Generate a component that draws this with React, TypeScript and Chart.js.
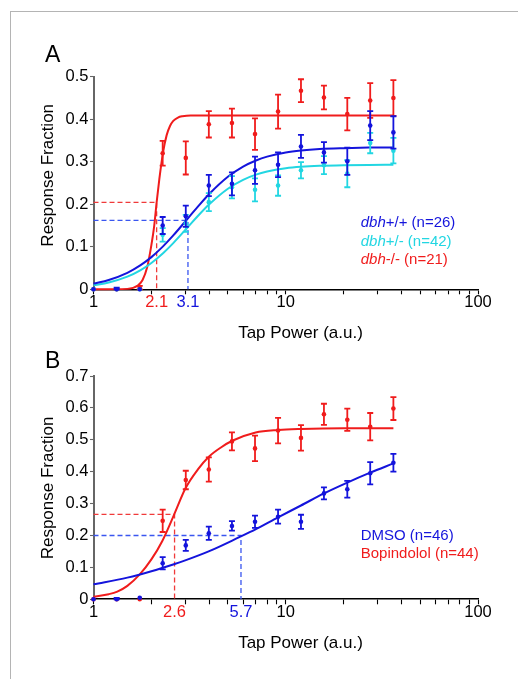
import React, { useEffect, useRef } from 'react';
import { Chart, registerables } from 'chart.js';

Chart.register(...registerables);

const FONT = '"Liberation Sans", Arial, Helvetica, sans-serif';

// ---------- shared data ----------
const tapPower = [1, 1.32, 1.74, 2.29, 3.02, 3.98, 5.25, 6.92, 9.12, 12.0, 15.8, 20.9, 27.5, 36.3];
const xTickValues = [1, 2, 3, 4, 5, 6, 7, 8, 9, 10, 20, 30, 40, 50, 60, 70, 80, 90, 100];
const xLabeledTicks = [1, 10, 100];
const xAxisTitle = 'Tap Power (a.u.)';
const yAxisTitle = 'Response Fraction';

// ---------- panel A ----------
const yTicksA = [0, 0.1, 0.2, 0.3, 0.4, 0.5];
const genotypePrefix = 'dbh';
const genotypesA = ['+/+', '+/-', '-/-'];
const countsA = [26, 42, 21];

const wtA = [0, 0, 0, 0.15, 0.172, 0.244, 0.248, 0.28, 0.293, 0.336, 0.322, 0.301, 0.385, 0.369];
const wtErrA = [0, 0.004, 0, 0.02, 0.025, 0.025, 0.027, 0.032, 0.029, 0.027, 0.024, 0.032, 0.034, 0.038];
const hetA = [0, 0, 0, 0.128, 0.155, 0.205, 0.24, 0.234, 0.244, 0.28, 0.292, 0.272, 0.344, 0.326];
const hetErrA = [0, 0, 0, 0.016, 0.02, 0.021, 0.026, 0.027, 0.024, 0.019, 0.021, 0.032, 0.024, 0.03];
const koA = [0, 0, 0.004, 0.32, 0.309, 0.388, 0.391, 0.365, 0.418, 0.467, 0.451, 0.412, 0.444, 0.45];
const koErrA = [0, 0, 0.004, 0.029, 0.039, 0.031, 0.034, 0.037, 0.04, 0.027, 0.028, 0.038, 0.041, 0.042];

// fitted curves
const fitXA = [1, 1.2, 1.5, 1.75, 2, 2.3, 2.6, 3.1, 3.5, 4, 5, 6, 7, 8, 10, 12, 15, 20, 27, 36.3];
const fitWtA = [0.0135, 0.0219, 0.0387, 0.0561, 0.0757, 0.101, 0.1267, 0.167, 0.1951, 0.2242, 0.2646, 0.2886, 0.303, 0.3121, 0.3219, 0.3266, 0.33, 0.332, 0.3332, 0.3337];
const fitHetA = [0.0095, 0.0161, 0.0298, 0.0447, 0.062, 0.085, 0.1087, 0.1465, 0.1729, 0.1999, 0.2366, 0.2575, 0.2696, 0.2769, 0.2845, 0.288, 0.2904, 0.2919, 0.2926, 0.2928];
const fitXKoA = [1, 1.5, 1.7, 1.8, 1.9, 2.0, 2.07, 2.13, 2.2, 2.3, 2.4, 2.5, 2.6, 2.75, 2.9, 3.2, 4, 36.3];
const fitKoA = [0, 0.001, 0.009, 0.022, 0.051, 0.104, 0.15, 0.2045, 0.259, 0.322, 0.362, 0.384, 0.396, 0.404, 0.407, 0.409, 0.409, 0.409];

// half-maximum guides
const ec50A = [2.13, 3.1];
const ec50LabelsA = ['2.1', '3.1'];
const halfMaxA = [0.2045, 0.162];

// ---------- panel B ----------
const yTicksB = [0, 0.1, 0.2, 0.3, 0.4, 0.5, 0.6, 0.7];
const treatmentsB = ['DMSO', 'Bopindolol'];
const countsB = [46, 44];

const dmsoB = [0, 0, 0.005, 0.113, 0.169, 0.207, 0.23, 0.243, 0.259, 0.243, 0.332, 0.345, 0.395, 0.428];
const dmsoErrB = [0, 0.004, 0, 0.019, 0.017, 0.021, 0.015, 0.019, 0.022, 0.022, 0.019, 0.026, 0.035, 0.028];
const bopB = [0, 0, 0, 0.246, 0.374, 0.407, 0.495, 0.473, 0.529, 0.506, 0.58, 0.563, 0.541, 0.598];
const bopErrB = [0, 0, 0, 0.035, 0.029, 0.038, 0.028, 0.04, 0.04, 0.04, 0.033, 0.035, 0.043, 0.036];

const fitXDmsoB = [1, 1.5, 2, 2.62, 3, 4, 5.7, 7, 9.12, 12, 15.8, 20.9, 27.5, 36.3];
const fitDmsoB = [0.047, 0.068, 0.088, 0.11, 0.122, 0.151, 0.194, 0.22, 0.257, 0.294, 0.332, 0.366, 0.397, 0.426];
const fitXBopB = [1, 1.2, 1.33, 1.5, 1.74, 2.0, 2.28, 2.62, 3.01, 3.5, 3.98, 4.6, 5.27, 6.97, 9.12, 12, 20, 36.3];
const fitBopB = [0.008, 0.016, 0.024, 0.042, 0.078, 0.125, 0.183, 0.264, 0.348, 0.408, 0.447, 0.476, 0.497, 0.523, 0.531, 0.534, 0.536, 0.536];

const ec50B = [2.64, 5.85];
const ec50LabelsB = ['2.6', '5.7'];
const halfMaxB = [0.266, 0.2];

// ---------- styling ----------
const RED = '#f01c1c';
const BLUE = '#1414dc';
const CYAN = '#22d6e2';
const RED_DASH = '#f03a3a';
const BLUE_DASH = '#3a56f0';

const W = 518;
const AREA_LEFT = 93.5;
const AREA_RIGHT = 478;
const TICK_SIZE = 16.5;
const X_TICK_LEN = 5;
const X_TICK_PAD = 0;

const pts = (xs: number[], ys: number[]) => xs.map((x, i) => ({ x, y: ys[i] }));

function pointSet(label: string, ys: number[], errs: number[], color: string) {
  return {
    label,
    data: pts(tapPower, ys),
    errors: errs,
    showLine: false,
    backgroundColor: color,
    borderColor: color,
    pointRadius: 2.3,
    pointBorderWidth: 0,
    clip: false,
    order: 0,
  };
}

function fitSet(label: string, xs: number[], ys: number[], color: string) {
  return {
    type: 'line',
    label,
    data: pts(xs, ys),
    borderColor: color,
    backgroundColor: color,
    borderWidth: 2,
    pointRadius: 0,
    fill: false,
    showLine: true,
    cubicInterpolationMode: 'monotone',
    clip: false,
    order: 1,
  };
}

function dashSet(ec: number, h: number, color: string) {
  return {
    type: 'line',
    label: 'half max',
    data: [{ x: 1, y: h }, { x: ec, y: h }, { x: ec, y: 0 }],
    borderColor: color,
    borderWidth: 1.3,
    borderDash: [5, 3],
    pointRadius: 0,
    tension: 0,
    fill: false,
    showLine: true,
    clip: false,
    order: 2,
  };
}

type LegendItem = { italic: string; rest: string; color: string };

type PanelSpec = {
  canvasTop: number;
  canvasHeight: number;
  areaTop: number; // page coords
  areaBottom: number; // page coords
  yMax: number;
  yTicks: number[];
  letter: string;
  letterBaseline: number;
  yTitleCenter: number;
  legend: LegendItem[];
  legendBaselines: number[];
  ecLabels: { value: number; text: string; color: string }[];
  datasets: any[];
};

const panelA: PanelSpec = {
  canvasTop: 0,
  canvasHeight: 350,
  areaTop: 76.7,
  areaBottom: 289.3,
  yMax: 0.5,
  yTicks: yTicksA,
  letter: 'A',
  letterBaseline: 61.7,
  yTitleCenter: 175.3,
  legend: [
    { italic: genotypePrefix, rest: `${genotypesA[0]} (n=${countsA[0]})`, color: BLUE },
    { italic: genotypePrefix, rest: `${genotypesA[1]} (n=${countsA[1]})`, color: CYAN },
    { italic: genotypePrefix, rest: `${genotypesA[2]} (n=${countsA[2]})`, color: RED },
  ],
  legendBaselines: [227.4, 245.6, 264],
  ecLabels: [
    { value: ec50A[0], text: ec50LabelsA[0], color: RED },
    { value: ec50A[1], text: ec50LabelsA[1], color: BLUE },
  ],
  datasets: [
    pointSet(genotypePrefix + genotypesA[0], wtA, wtErrA, BLUE),
    pointSet(genotypePrefix + genotypesA[1], hetA, hetErrA, CYAN),
    pointSet(genotypePrefix + genotypesA[2], koA, koErrA, RED),
    fitSet('fit +/+', fitXA, fitWtA, BLUE),
    fitSet('fit +/-', fitXA, fitHetA, CYAN),
    fitSet('fit -/-', fitXKoA, fitKoA, RED),
    dashSet(ec50A[0], halfMaxA[0], RED_DASH),
    dashSet(ec50A[1], halfMaxA[1], BLUE_DASH),
  ],
};

const panelB: PanelSpec = {
  canvasTop: 330,
  canvasHeight: 349,
  areaTop: 376,
  areaBottom: 599.3,
  yMax: 0.7,
  yTicks: yTicksB,
  letter: 'B',
  letterBaseline: 368.3,
  yTitleCenter: 488,
  legend: [
    { italic: '', rest: `${treatmentsB[0]} (n=${countsB[0]})`, color: BLUE },
    { italic: '', rest: `${treatmentsB[1]} (n=${countsB[1]})`, color: RED },
  ],
  legendBaselines: [540.3, 558.4],
  ecLabels: [
    { value: ec50B[0], text: ec50LabelsB[0], color: RED },
    { value: ec50B[1], text: ec50LabelsB[1], color: BLUE },
  ],
  datasets: [
    pointSet(treatmentsB[0], dmsoB, dmsoErrB, BLUE),
    pointSet(treatmentsB[1], bopB, bopErrB, RED),
    fitSet('fit DMSO', fitXDmsoB, fitDmsoB, BLUE),
    fitSet('fit Bopindolol', fitXBopB, fitBopB, RED),
    dashSet(ec50B[0], halfMaxB[0], RED_DASH),
    dashSet(ec50B[1], halfMaxB[1], BLUE_DASH),
  ],
};

function overlayPlugin(spec: PanelSpec) {
  const off = spec.canvasTop;
  return {
    id: 'overlay',
    afterDatasetDraw(chart: any, args: any) {
      const ds = chart.data.datasets[args.index];
      if (!ds.errors) return;
      const ctx = chart.ctx;
      const xs = chart.scales.x;
      const ys = chart.scales.y;
      ctx.save();
      ctx.strokeStyle = ds.borderColor;
      ctx.lineWidth = 1.8;
      ds.data.forEach((p: any, i: number) => {
        const e = ds.errors[i];
        if (!e) return;
        const px = xs.getPixelForValue(p.x);
        const yTop = ys.getPixelForValue(p.y + e);
        const yBot = ys.getPixelForValue(Math.max(0, p.y - e));
        const cap = 3;
        ctx.beginPath();
        ctx.moveTo(px, yTop);
        ctx.lineTo(px, yBot);
        ctx.moveTo(px - cap, yTop);
        ctx.lineTo(px + cap, yTop);
        ctx.moveTo(px - cap, yBot);
        ctx.lineTo(px + cap, yBot);
        ctx.stroke();
      });
      ctx.restore();
    },
    afterDraw(chart: any) {
      const ctx = chart.ctx;
      const xs = chart.scales.x;
      ctx.save();
      // panel letter
      ctx.fillStyle = '#000';
      ctx.font = `23px ${FONT}`;
      ctx.textAlign = 'left';
      ctx.textBaseline = 'alphabetic';
      ctx.fillText(spec.letter, 45, spec.letterBaseline - off);

      // y title
      ctx.save();
      ctx.translate(52.9, spec.yTitleCenter - off);
      ctx.rotate(-Math.PI / 2);
      ctx.font = `17px ${FONT}`;
      ctx.textAlign = 'center';
      ctx.textBaseline = 'alphabetic';
      ctx.fillText(yAxisTitle, 0, 0);
      ctx.restore();

      // x title
      ctx.font = `17px ${FONT}`;
      ctx.textAlign = 'center';
      ctx.textBaseline = 'alphabetic';
      ctx.fillText(xAxisTitle, 300.5, chart.chartArea.bottom + 48.9);

      // half-max labels on the x axis
      ctx.font = `${TICK_SIZE}px ${FONT}`;
      ctx.textBaseline = 'middle';
      ctx.textAlign = 'center';
      const ly = xs.top + X_TICK_LEN + X_TICK_PAD + TICK_SIZE / 2;
      spec.ecLabels.forEach((l) => {
        ctx.fillStyle = l.color;
        ctx.fillText(l.text, xs.getPixelForValue(l.value), ly);
      });

      // legend
      ctx.textAlign = 'left';
      ctx.textBaseline = 'alphabetic';
      spec.legend.forEach((item, i) => {
        let x = 360.7;
        const y = spec.legendBaselines[i] - off;
        ctx.fillStyle = item.color;
        if (item.italic) {
          ctx.font = `italic 15px ${FONT}`;
          ctx.fillText(item.italic, x, y);
          x += ctx.measureText(item.italic).width;
        }
        ctx.font = `15px ${FONT}`;
        ctx.fillText(item.rest, x, y);
      });
      ctx.restore();
    },
  };
}

function buildConfig(spec: PanelSpec): any {
  const areaTop = spec.areaTop - spec.canvasTop;
  const areaBottom = spec.areaBottom - spec.canvasTop;
  return {
    type: 'scatter',
    data: { datasets: spec.datasets },
    options: {
      responsive: false,
      maintainAspectRatio: false,
      animation: false,
      devicePixelRatio: 1,
      events: [],
      layout: {
        autoPadding: false,
        padding: { left: 0, top: areaTop, right: W - AREA_RIGHT, bottom: 0 },
      },
      plugins: {
        legend: { display: false },
        tooltip: { enabled: false },
        title: { display: false },
      },
      scales: {
        x: {
          type: 'logarithmic',
          min: 1,
          max: 100,
          afterFit: (s: any) => {
            s.height = spec.canvasHeight - areaBottom;
          },
          afterBuildTicks: (s: any) => {
            s.ticks = xTickValues.map((v) => ({ value: v }));
          },
          ticks: {
            autoSkip: false,
            maxRotation: 0,
            minRotation: 0,
            padding: X_TICK_PAD,
            color: '#000',
            font: { family: FONT, size: TICK_SIZE, lineHeight: 1 },
            callback: (v: any) => (xLabeledTicks.includes(Number(v)) ? String(v) : ''),
          },
          grid: {
            display: true,
            drawOnChartArea: false,
            drawTicks: true,
            tickLength: X_TICK_LEN,
            color: '#000',
            tickWidth: 1.1,
          },
          border: { display: true, color: '#000', width: 1.6 },
        },
        y: {
          type: 'linear',
          min: 0,
          max: spec.yMax,
          afterFit: (s: any) => {
            s.width = AREA_LEFT;
          },
          afterBuildTicks: (s: any) => {
            s.ticks = spec.yTicks.map((v) => ({ value: v }));
          },
          ticks: {
            padding: 1.5,
            color: '#000',
            font: { family: FONT, size: TICK_SIZE, lineHeight: 1 },
            callback: (v: any) => (Number(v) === 0 ? '0' : Number(v).toFixed(1)),
          },
          grid: {
            display: true,
            drawOnChartArea: false,
            drawTicks: true,
            tickLength: 3.5,
            color: '#666',
            tickWidth: 1.1,
          },
          border: { display: true, color: '#666', width: 2 },
        },
      },
    },
    plugins: [overlayPlugin(spec)],
  };
}

function Panel({ spec }: { spec: PanelSpec }) {
  const ref = useRef<HTMLCanvasElement>(null);
  useEffect(() => {
    if (!ref.current) return;
    const chart = new Chart(ref.current, buildConfig(spec));
    return () => chart.destroy();
  }, [spec]);
  return (
    <canvas
      ref={ref}
      width={W}
      height={spec.canvasHeight}
      style={{ position: 'absolute', left: 0, top: spec.canvasTop, width: W, height: spec.canvasHeight }}
    />
  );
}

export default function App() {
  return (
    <div
      style={{
        position: 'absolute',
        left: 0,
        top: 0,
        width: W,
        height: 679,
        overflow: 'hidden',
        background: '#fff',
      }}
    >
      <div
        style={{
          position: 'absolute',
          left: 10,
          top: 11,
          width: W - 10,
          height: 679 - 11,
          boxSizing: 'border-box',
          borderLeft: '1px solid #b4b4b4',
          borderTop: '1px solid #b4b4b4',
        }}
      />
      <Panel spec={panelA} />
      <Panel spec={panelB} />
    </div>
  );
}
